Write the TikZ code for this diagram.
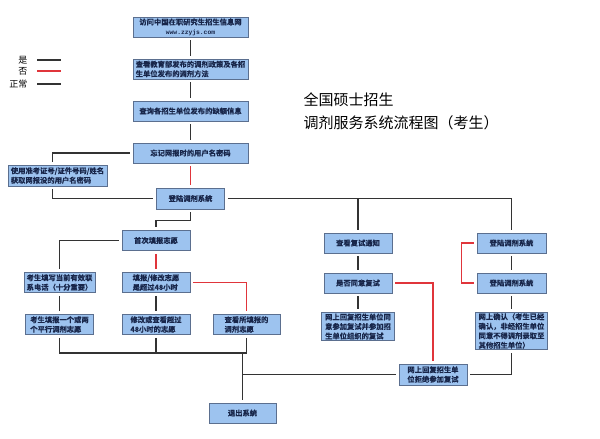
\documentclass[tikz,border=0pt]{standalone}
\usepackage{fontspec}
\setmainfont{Noto Sans CJK SC}[BoldFont={Noto Sans CJK SC Bold},BoldFeatures={FakeBold=0.4}]
\setmonofont{Liberation Mono}
\usetikzlibrary{arrows}
\definecolor{boxfill}{HTML}{9DC3EF}
\definecolor{boxline}{HTML}{5B6F8F}
\definecolor{boxtext}{HTML}{18264A}
\definecolor{nored}{HTML}{E0353B}

\begin{document}
\begin{tikzpicture}[x=1pt,y=-1pt,node distance=42pt,
                    main box/.style={rectangle,draw=boxline,fill=boxfill,line width=0.8pt,
                      inner xsep=2pt,inner ysep=1pt,minimum height=20pt,text=boxtext,
                      font=\fontsize{7.3}{9.5}\selectfont\bfseries,align=left},
                    yes line/.style={draw=black!80,line width=1.4pt,shorten <=3pt,shorten >=3pt},
                    no line/.style={yes line,draw=nored},
                    legend text/.style={anchor=east,font=\fontsize{9}{10}\selectfont},
                    title text/.style={anchor=west,font=\fontsize{15}{18}\selectfont}]

  \useasboundingbox (0,0) rectangle (600,439);

  % legend and title
  \node[legend text] (lyes) at (31,60) {是};
  \node[legend text] (lno) at (31,71) {否};
  \node[legend text] (lok) at (31,84) {正常};
  \draw[yes line,shorten <=0pt,shorten >=0pt] ([xshift=6pt]lyes.east) -- ++(24,0);
  \draw[no line,shorten <=0pt,shorten >=0pt] ([xshift=6pt]lno.east) -- ++(24,0);
  \draw[yes line,shorten <=0pt,shorten >=0pt] ([xshift=6pt]lok.east) -- ++(24,0);
  \node[title text] (title1) at (300,100) {全国硕士招生};
  \node[title text] (title2) at (300,123) {调剂服务系统流程图（考生）};

  % main column
  \node[main box,minimum width=115pt,align=center] (visit) at (190.5,27)
    {访问中国在职研究生招生信息网\\{\ttfamily\fontsize{6.3}{9}\selectfont www.zzyjs.com}};
  \node[main box,minimum width=115pt] (policy) [below of=visit]
    {查看教育部发布的调剂政策及各招\\生单位发布的调剂方法};
  \node[main box,minimum width=115pt] (query) [below of=policy] {查询各招生单位发布的缺额信息};
  \node[main box,minimum width=115pt] (forgot) [below of=query] {忘记网报时的用户名密码};
  \node[main box,minimum width=99pt,minimum height=21pt] (use) at (57.5,175.5)
    {使用准考证号/证件号码/姓名\\获取网报没的用户名密码};
  \node[main box,minimum width=68pt,minimum height=21pt] (login) [node distance=45.5pt,below of=forgot] {登陆调剂系统};

  % first time
  \node[main box,minimum width=68pt] (first) at (156,240.5) {首次填报志愿};
  \node[main box,minimum width=68pt] (fill48) [below of=first] {填报/修改志愿\\是超过48小时};
  \node[main box,minimum width=68pt] (modify) [below of=fill48] {修改或查看超过\\48小时的志愿};
  \node[main box,minimum width=71pt] (phone) [node distance=96.5pt,left of=fill48] {考生填写当前有效联\\系电话（十分重要）};
  \node[main box,minimum width=68pt] (two) [below of=phone] {考生填报一个或两\\个平行调剂志愿};
  \node[main box,minimum width=67pt] (viewf) [node distance=90.5pt,right of=modify] {查看所填报的\\调剂志愿};
  \node[main box,minimum width=67pt] (exit) at (242.5,413) {退出系统};

  % retest
  \node[main box,minimum width=68pt] (notice) at (358,243) {查看复试通知};
  \node[main box,minimum width=68pt] (agree) [node distance=40pt,below of=notice] {是否同意复试};
  \node[main box,minimum width=73pt] (accept) [node distance=43.5pt,below of=agree]
    {网上回复招生单位同\\意参加复试并参加招\\生单位组织的复试};
  \node[main box,minimum width=68pt,minimum height=21pt] (reject) at (433,374.5) {网上回复招生单\\位拒绝参加复试};

  % confirm
  \node[main box,minimum width=69pt] (loga) at (511.5,243) {登陆调剂系统};
  \node[main box,minimum width=69pt] (logb) [node distance=40pt,below of=loga] {登陆调剂系统};
  \node[main box,minimum width=72pt] (confirm) [node distance=48pt,below of=logb]
    {网上确认（考生已经\\确认，非经招生单位\\同意不得调剂录取至\\其他招生单位）};

  \coordinate (merge) at (242.5,353);

  \draw[yes line] (visit) -- (policy);
  \draw[yes line] (policy) -- (query);
  \draw[yes line] (query) -- (forgot);
  \draw[yes line] (forgot.west) -| ([xshift=-5pt]use.north);
  \draw[yes line] ([xshift=-5pt]use.south) |- (login.west);
  \draw[no line] (forgot.south) -- (forgot.south |- login.north);
  \draw[yes line] (login.south) -- ++(0,11) -| (first.north);
  \draw[yes line] (first.west) -| (phone.north);
  \draw[no line] (first) -- (fill48);
  \draw[no line] (fill48.east) -| (viewf.north);
  \draw[yes line] (phone) -- (two);
  \draw[yes line] (fill48) -- (modify);
  \draw[yes line,shorten >=0pt] (two.south) |- (merge);
  \draw[yes line,shorten >=0pt] (modify.south) -- (modify.south |- merge);
  \draw[yes line,shorten >=0pt] (viewf.south) |- (merge);
  \draw[yes line,shorten <=0pt] (merge) -- (exit.north);
  \draw[yes line,shorten <=0pt] (merge |- reject.west) -- (reject.west);

  \draw[yes line] (login.east) -| (loga.north);
  \draw[yes line,shorten <=0pt] (notice.north |- login.east) -- (notice.north);
  \draw[yes line] (notice) -- (agree);
  \draw[yes line] (agree) -- (accept);
  \draw[no line] (agree.east) -| (reject.north);
  \draw[yes line] (loga) -- (logb);
  \draw[yes line] (logb) -- (confirm);
  \draw[no line] (loga.west) -- ++(-15,0) |- (logb.west);
  \draw[yes line] (confirm.south) |- (reject.east);
\end{tikzpicture}
\end{document}
